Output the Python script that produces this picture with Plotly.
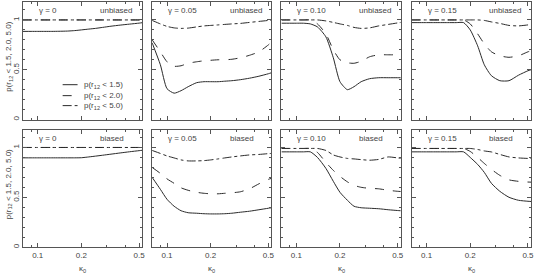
import math
import plotly.graph_objects as go

W, H = 540, 277

kappa = [0.079, 0.09, 0.1, 0.112, 0.125, 0.14, 0.16, 0.18, 0.2, 0.225,
         0.25, 0.28, 0.32, 0.37, 0.43, 0.5, 0.525]

gammas = ["0", "0.05", "0.10", "0.15"]
modes = ["unbiased", "biased"]

# unbiased row
u_g0_p15 = [0.885, 0.885, 0.885, 0.885, 0.885, 0.886, 0.888, 0.893, 0.900, 0.908, 0.915, 0.925, 0.937, 0.948, 0.958, 0.968, 0.972]
u_g0_p20 = [1.0] * 17
u_g0_p50 = [1.0] * 17

u_g05_p15 = [0.77, 0.55, 0.31, 0.265, 0.29, 0.33, 0.37, 0.38, 0.38, 0.38, 0.385, 0.39, 0.40, 0.415, 0.435, 0.46, 0.47]
u_g05_p20 = [0.80, 0.68, 0.58, 0.535, 0.54, 0.565, 0.58, 0.59, 0.595, 0.60, 0.60, 0.605, 0.62, 0.645, 0.68, 0.75, 0.78]
u_g05_p50 = [0.995, 0.96, 0.935, 0.92, 0.915, 0.918, 0.93, 0.94, 0.945, 0.95, 0.955, 0.96, 0.965, 0.975, 0.985, 0.995, 1.0]

u_g10_p15 = [0.967, 0.967, 0.967, 0.967, 0.96, 0.93, 0.83, 0.62, 0.38, 0.30, 0.33, 0.38, 0.41, 0.42, 0.42, 0.42, 0.42]
u_g10_p20 = [1.0, 1.0, 1.0, 1.0, 1.0, 0.96, 0.86, 0.70, 0.60, 0.57, 0.565, 0.585, 0.63, 0.65, 0.65, 0.65, 0.65]
u_g10_p50 = [1.0, 1.0, 1.0, 1.0, 1.0, 1.0, 0.99, 0.975, 0.96, 0.945, 0.925, 0.915, 0.92, 0.94, 0.955, 0.97, 0.975]

u_g15_p15 = [0.973, 0.973, 0.973, 0.973, 0.973, 0.973, 0.973, 0.973, 0.90, 0.74, 0.55, 0.44, 0.39, 0.39, 0.445, 0.49, 0.50]
u_g15_p20 = [1.0, 1.0, 1.0, 1.0, 1.0, 1.0, 1.0, 1.0, 0.96, 0.86, 0.76, 0.68, 0.64, 0.625, 0.64, 0.68, 0.69]
u_g15_p50 = [1.0, 1.0, 1.0, 1.0, 1.0, 1.0, 1.0, 1.0, 1.0, 1.0, 0.995, 0.98, 0.965, 0.945, 0.94, 0.95, 0.955]

# biased row
b_g0_p15 = [0.896, 0.896, 0.896, 0.896, 0.896, 0.896, 0.896, 0.896, 0.897, 0.905, 0.913, 0.922, 0.933, 0.945, 0.957, 0.968, 0.972]
b_g0_p20 = [1.0] * 17
b_g0_p50 = [1.0] * 17

b_g05_p15 = [0.70, 0.58, 0.48, 0.41, 0.365, 0.345, 0.34, 0.335, 0.333, 0.333, 0.335, 0.34, 0.35, 0.36, 0.375, 0.39, 0.395]
b_g05_p20 = [0.80, 0.74, 0.685, 0.64, 0.595, 0.57, 0.55, 0.54, 0.535, 0.535, 0.54, 0.545, 0.555, 0.585, 0.635, 0.68, 0.69]
b_g05_p50 = [0.97, 0.94, 0.915, 0.895, 0.875, 0.865, 0.865, 0.868, 0.875, 0.885, 0.895, 0.905, 0.915, 0.925, 0.93, 0.938, 0.94]

b_g10_p15 = [0.956, 0.956, 0.956, 0.956, 0.956, 0.90, 0.79, 0.66, 0.55, 0.47, 0.41, 0.395, 0.39, 0.385, 0.375, 0.367, 0.365]
b_g10_p20 = [0.99, 0.99, 0.99, 0.99, 0.99, 0.95, 0.85, 0.77, 0.71, 0.655, 0.62, 0.60, 0.59, 0.585, 0.57, 0.56, 0.558]
b_g10_p50 = [0.99, 0.99, 0.99, 0.99, 0.99, 0.99, 0.97, 0.925, 0.905, 0.89, 0.885, 0.878, 0.872, 0.88, 0.905, 0.895, 0.89]

b_g15_p15 = [0.956, 0.956, 0.956, 0.956, 0.956, 0.956, 0.956, 0.956, 0.90, 0.83, 0.75, 0.64, 0.56, 0.50, 0.47, 0.46, 0.458]
b_g15_p20 = [0.99, 0.99, 0.99, 0.99, 0.99, 0.99, 0.99, 0.99, 0.96, 0.90, 0.84, 0.78, 0.72, 0.675, 0.66, 0.653, 0.652]
b_g15_p50 = [0.99, 0.99, 0.99, 0.99, 0.99, 0.99, 0.99, 0.99, 0.99, 0.98, 0.965, 0.955, 0.93, 0.905, 0.895, 0.89, 0.889]

panels = [
    [(u_g0_p15, u_g0_p20, u_g0_p50), (u_g05_p15, u_g05_p20, u_g05_p50),
     (u_g10_p15, u_g10_p20, u_g10_p50), (u_g15_p15, u_g15_p20, u_g15_p50)],
    [(b_g0_p15, b_g0_p20, b_g0_p50), (b_g05_p15, b_g05_p20, b_g05_p50),
     (b_g10_p15, b_g10_p20, b_g10_p50), (b_g15_p15, b_g15_p20, b_g15_p50)],
]

legend_labels = ["p(r<sub>12</sub> < 1.5)", "p(r<sub>12</sub> < 2.0)", "p(r<sub>12</sub> < 5.0)"]
dashes = ["solid", "dash", "dashdot"]

LINE = "#2a2a2a"
AX = "#555555"
TXT = "#444444"
FONT = "Liberation Sans, Arial, sans-serif"

xpix = [(23, 143), (153, 273), (283, 403), (414, 534)]
ypix = [(2, 120), (130, 248)]

def px(x):
    return x / W

def py(y):
    return 1 - y / H

fig = go.Figure()
layout = dict(width=W, height=H, margin=dict(l=0, r=0, t=0, b=0),
              paper_bgcolor="white", plot_bgcolor="white", showlegend=False,
              font=dict(family=FONT, size=8, color=TXT))
annotations = []
shapes = []

for r in range(2):
    for c in range(4):
        idx = r * 4 + c + 1
        xa = "xaxis" if idx == 1 else f"xaxis{idx}"
        ya = "yaxis" if idx == 1 else f"yaxis{idx}"
        xr = "x" if idx == 1 else f"x{idx}"
        yr = "y" if idx == 1 else f"y{idx}"
        for s in range(3):
            fig.add_trace(go.Scatter(x=kappa, y=panels[r][c][s], mode="lines",
                                     line=dict(color=LINE, width=1, dash=dashes[s], shape="spline", smoothing=0.6),
                                     xaxis=xr, yaxis=yr, name=legend_labels[s]))
        layout[xa] = dict(domain=[px(xpix[c][0]), px(xpix[c][1])], anchor=yr, type="log",
                          range=[math.log10(0.079), math.log10(0.525)],
                          tickvals=[0.1, 0.2, 0.5], ticktext=["0.1", "0.2", "0.5"],
                          showticklabels=(r == 1), ticks="inside", ticklen=4, tickcolor=AX,
                          minor=dict(tickvals=[0.08, 0.09, 0.3, 0.4], ticks="inside", ticklen=2, tickcolor=AX),
                          showline=True, linecolor=AX, linewidth=1, mirror="allticks",
                          showgrid=False, zeroline=False,
                          tickfont=dict(size=8, color=TXT, family=FONT))
        layout[ya] = dict(domain=[py(ypix[r][1]), py(ypix[r][0])], anchor=xr,
                          range=[0, 1.18], tickvals=[0, 0.5, 1], ticktext=["0", "0.5", "1"],
                          showticklabels=(c == 0), tickangle=-90, ticks="inside", ticklen=4, tickcolor=AX,
                          minor=dict(dtick=0.1, ticks="inside", ticklen=2, tickcolor=AX),
                          showline=True, linecolor=AX, linewidth=1, mirror="allticks",
                          showgrid=False, zeroline=False,
                          tickfont=dict(size=8, color=TXT, family=FONT))
        annotations.append(dict(xref="paper", yref="paper", x=px(xpix[c][0] + 14), y=py(ypix[r][0] + 9),
                                text=f"γ = {gammas[c]}", showarrow=False, xanchor="left", yanchor="middle",
                                font=dict(size=8, color=TXT, family=FONT)))
        annotations.append(dict(xref="paper", yref="paper", x=px(xpix[c][0] + 76), y=py(ypix[r][0] + 9),
                                text=modes[r], showarrow=False, xanchor="left", yanchor="middle",
                                font=dict(size=8, color=TXT, family=FONT)))
        if r == 1:
            annotations.append(dict(xref="paper", yref="paper", x=px((xpix[c][0] + xpix[c][1]) / 2),
                                    y=py(270), text="κ<sub>0</sub>", showarrow=False,
                                    xanchor="center", yanchor="middle",
                                    font=dict(size=8, color=TXT, family=FONT)))
    annotations.append(dict(xref="paper", yref="paper", x=px(9), y=py((ypix[r][0] + ypix[r][1]) / 2 - 4),
                            text="p(r<sub>12</sub> < 1.5, 2.0, 5.0)", showarrow=False, textangle=-90,
                            xanchor="center", yanchor="middle",
                            font=dict(size=8, color=TXT, family=FONT)))

leg_y = [85, 96, 106]
for s in range(3):
    shapes.append(dict(type="line", xref="paper", yref="paper",
                       x0=px(63), x1=px(78), y0=py(leg_y[s]), y1=py(leg_y[s]),
                       line=dict(color=LINE, width=1, dash=dashes[s])))
    annotations.append(dict(xref="paper", yref="paper", x=px(82), y=py(leg_y[s]),
                            text=legend_labels[s], showarrow=False, xanchor="left", yanchor="middle",
                            font=dict(size=8, color=TXT, family=FONT)))

layout["annotations"] = annotations
layout["shapes"] = shapes
fig.update_layout(**layout)
fig.write_html("out.html", config={"displayModeBar": False},
               post_script="document.body.style.margin='0';document.body.style.padding='0';")
